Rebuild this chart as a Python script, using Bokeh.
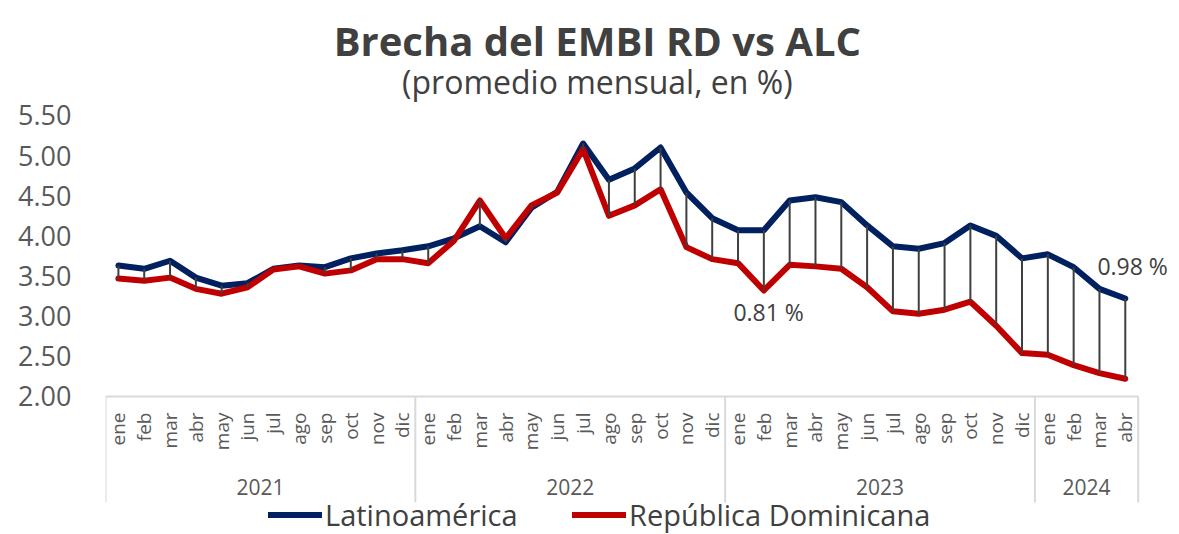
import numpy as np
from bokeh.plotting import figure
from bokeh.models import Range1d, FixedTicker, PrintfTickFormatter, Legend, LegendItem
from bokeh.embed import file_html
from bokeh.resources import INLINE
from bokeh.core.properties import value

# ---------------- data ----------------
month_names = ["ene", "feb", "mar", "abr", "may", "jun",
               "jul", "ago", "sep", "oct", "nov", "dic"]
years = ["2021", "2022", "2023", "2024"]
months_per_year = [12, 12, 12, 4]
month_labels = month_names * 3 + month_names[:4]

latam = [3.63, 3.59, 3.69, 3.48, 3.38, 3.41, 3.59, 3.63, 3.61, 3.72, 3.78, 3.82,
         3.87, 3.97, 4.12, 3.92, 4.35, 4.55, 5.15, 4.70, 4.84, 5.10, 4.54, 4.22,
         4.07, 4.07, 4.44, 4.48, 4.42, 4.13, 3.87, 3.84, 3.91, 4.13, 4.00, 3.72,
         3.77, 3.61, 3.34, 3.22]
rd = [3.47, 3.44, 3.48, 3.34, 3.28, 3.36, 3.58, 3.62, 3.53, 3.57, 3.71, 3.71,
      3.66, 3.94, 4.44, 3.97, 4.38, 4.54, 5.08, 4.25, 4.38, 4.58, 3.86, 3.71,
      3.66, 3.32, 3.64, 3.62, 3.59, 3.36, 3.06, 3.03, 3.08, 3.18, 2.88, 2.54,
      2.52, 2.39, 2.29, 2.22]
y_ticks = [2.0, 2.5, 3.0, 3.5, 4.0, 4.5, 5.0, 5.5]
gap_labels = ["0.81 %", "0.98 %"]
series_names = ["Latinoamérica", "República Dominicana"]
title_text = "Brecha del EMBI RD vs ALC"
subtitle_text = "(promedio mensual, en %)"

# ---------------- style ----------------
BLUE = "#002060"
RED = "#C00000"
GREY_TXT = "#595959"
DARK_TXT = "#404040"
BOX = "#d9d9d9"
FONT = "Open Sans"

idx = list(range(len(month_labels)))

p = figure(width=1179, height=534, output_backend="svg", toolbar_location=None,
           x_range=Range1d(-0.5, 41.10), y_range=Range1d(0.281, 6.931),
           x_axis_location=None, y_axis_location="left",
           min_border_left=105, min_border_right=0, min_border_top=0, min_border_bottom=0)
p.outline_line_color = None
p.grid.grid_line_color = None
p.background_fill_color = "white"

yax = p.yaxis[0]
yax.ticker = FixedTicker(ticks=y_ticks)
yax.formatter = PrintfTickFormatter(format="%.2f")
yax.axis_line_color = None
yax.major_tick_line_color = None
yax.minor_tick_line_color = None
yax.major_label_standoff = 28
yax.major_label_text_font_size = "27px"
yax.major_label_text_color = GREY_TXT
yax.major_label_text_font = FONT

# category box below plot
bounds = [-0.5]
for n in months_per_year:
    bounds.append(bounds[-1] + n)
box_bottom = 0.68
p.segment(x0=[bounds[0]], y0=[y_ticks[0]], x1=[bounds[-1]], y1=[y_ticks[0]],
          line_color=BOX, line_width=2)
p.segment(x0=bounds, y0=[y_ticks[0]] * len(bounds), x1=bounds, y1=[box_bottom] * len(bounds),
          line_color=BOX, line_width=2)

# month labels
p.text(x=idx, y=[1.80] * len(idx), text=month_labels, angle=np.pi / 2,
       text_align="right", text_baseline="middle", text_font_size="19px",
       text_color=GREY_TXT, text_font=value(FONT))
# year labels
year_centers = [(bounds[i] + bounds[i + 1]) / 2 for i in range(len(years))]
p.text(x=year_centers, y=[0.867] * len(years), text=years,
       text_align="center", text_baseline="middle", text_font_size="21px",
       text_color=GREY_TXT, text_font=value(FONT))

# series
r_blue = p.line(idx, latam, line_color=BLUE, line_width=6, line_join="round", line_cap="round")
r_red = p.line(idx, rd, line_color=RED, line_width=6, line_join="round", line_cap="round")
p.segment(x0=idx, y0=rd, x1=idx, y1=latam, line_color="#3f3f3f", line_width=2)

# gap annotations
p.text(x=[23.82, 37.92], y=[3.046, 3.619], text=gap_labels, text_align="left",
       text_baseline="middle", text_font_size="23px", text_color=DARK_TXT,
       text_font=value(FONT))

# titles
p.text(x=[18.55], y=[6.43], text=[title_text], text_align="center", text_baseline="middle",
       text_font_size="40px", text_font_style="bold", text_color=DARK_TXT,
       text_font=value(FONT))
p.text(x=[18.55], y=[5.92], text=[subtitle_text], text_align="center", text_baseline="middle",
       text_font_size="32px", text_color=DARK_TXT, text_font=value(FONT))

# legends
def make_legend(label, r, loc):
    lg = Legend(items=[LegendItem(label=label, renderers=[r])], location=loc,
                orientation="horizontal", background_fill_alpha=0, border_line_color=None,
                padding=0, margin=0, spacing=0, glyph_width=54, glyph_height=29,
                label_height=29, label_standoff=3, label_text_font_size="29px",
                label_text_color=DARK_TXT, label_text_font=FONT,
                label_text_baseline="middle")
    p.add_layout(lg)

make_legend(series_names[0], r_blue, (163, 0))
make_legend(series_names[1], r_red, (467, 0))

open("out.html", "w").write(file_html(p, INLINE))
